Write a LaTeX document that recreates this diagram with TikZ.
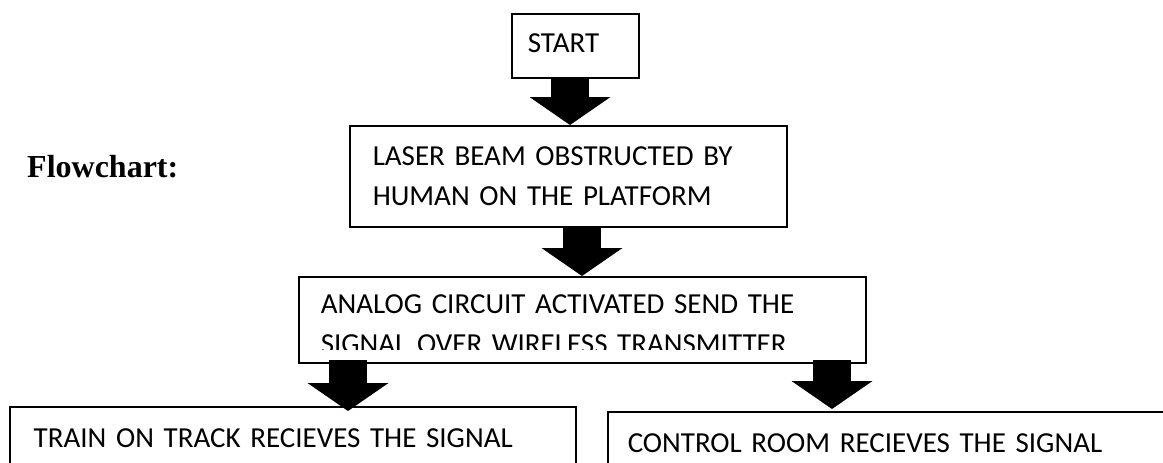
\documentclass[tikz,border=0pt]{standalone}
\usepackage{fontspec}
\setmainfont{Carlito}
\newfontfamily\titlefont{Liberation Serif}
\usetikzlibrary{arrows.meta}

\begin{document}
\begin{tikzpicture}[x=1pt,y=-1pt,
        box/.style={draw,line width=1.5pt,anchor=north west,align=left,inner ysep=0pt,font=\fontsize{29}{40}\selectfont},
        blockarrow/.style={line width=38pt,-{Triangle[width=81pt,length=28pt,line width=0pt]}}]
            \useasboundingbox (0,0) rectangle (1163,463);

            \node[anchor=base west,inner sep=0pt,font=\titlefont\bfseries\fontsize{32}{38}\selectfont] (title) at (27,177) {Flowchart:};

            \node[box,inner xsep=16pt,text width=95pt,minimum height=64pt,text depth=5pt] (start) at (511,13) {START};
            \node[box,inner xsep=23pt,text width=391pt,minimum height=101pt] (laser) at (349,125) {LASER BEAM OBSTRUCTED BY\\HUMAN ON THE PLATFORM};
            \node[box,inner xsep=22pt,text width=523pt,minimum height=86pt,text height=28pt] (analog) at (298,276) {ANALOG CIRCUIT ACTIVATED SEND THE\\SIGNAL OVER WIRELESS TRANSMITTER};
            \node[box,inner xsep=24pt,text width=518pt,minimum height=62pt] (train) at (9,406) {TRAIN ON TRACK RECIEVES THE SIGNAL};
            \node[box,inner xsep=20pt,text width=560pt,minimum height=62pt] (control) at (607,411) {CONTROL ROOM RECIEVES THE SIGNAL};

            \fill[white] (306,350) rectangle (857,357);

            \draw[blockarrow] ([xshift=59pt]start.south west) -- ([xshift=221pt]laser.north west);
            \draw[blockarrow] ([xshift=233pt]laser.south west) -- ([xshift=284pt]analog.north west);
            \draw[blockarrow] ([xshift=50pt,yshift=4pt]analog.south west) -- ([xshift=339pt,yshift=-5pt]train.north west);
            \draw[blockarrow] ([xshift=534pt,yshift=4pt]analog.south west) -- ([xshift=225pt,yshift=2pt]control.north west);
        \end{tikzpicture}
\end{document}
